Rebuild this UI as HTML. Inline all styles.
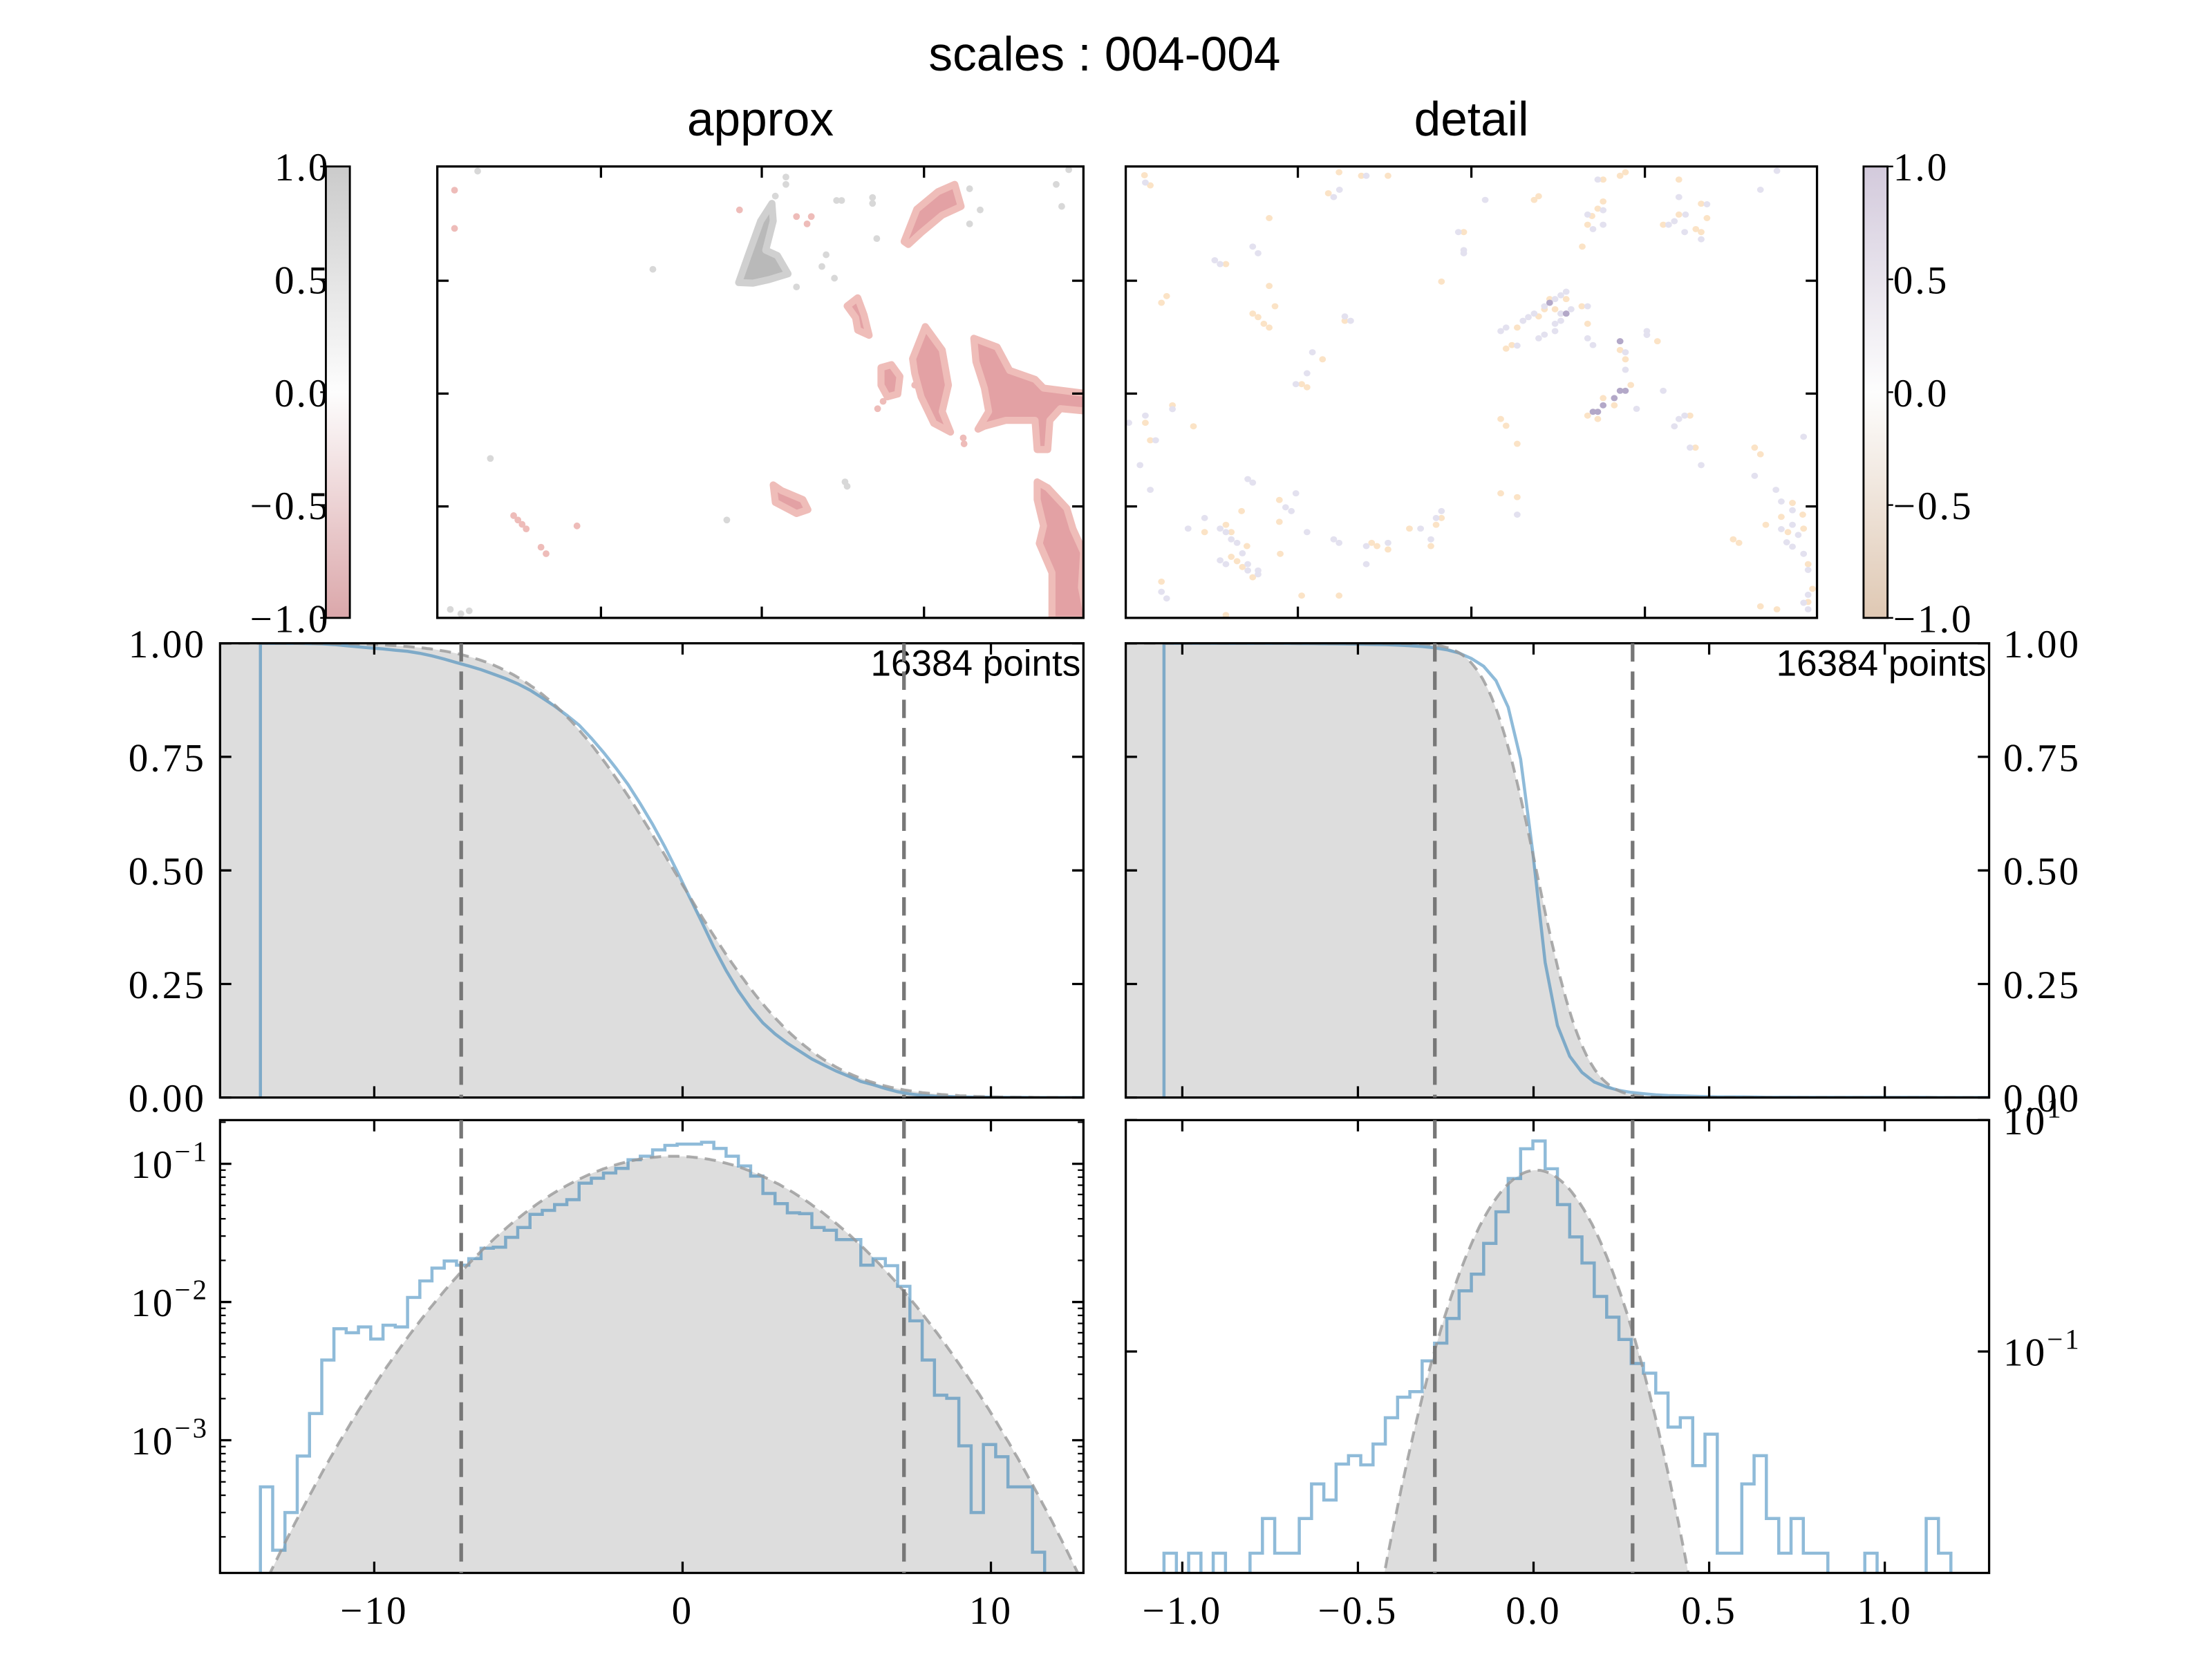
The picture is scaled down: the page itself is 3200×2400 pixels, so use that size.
<!DOCTYPE html>
<html><head><meta charset="utf-8"><title>scales : 004-004</title>
<style>
html,body{margin:0;padding:0;background:#fff;}
svg{display:block;}
.tk{font-family:"Liberation Serif",serif;font-size:28px;letter-spacing:1.5px;fill:#000;}
.sn{font-family:"Liberation Sans",sans-serif;fill:#000;}
</style></head>
<body>
<svg id="fig" xmlns="http://www.w3.org/2000/svg" width="3200" height="2400" viewBox="0 0 1568 1176" preserveAspectRatio="none">
<rect x="0" y="0" width="1568" height="1176" fill="#fff"/>
<defs>
<linearGradient id="cbL" x1="0" y1="0" x2="0" y2="1">
<stop offset="0" stop-color="#cbcbcb"/><stop offset="0.5" stop-color="#fdfdfd"/><stop offset="1" stop-color="#dba7aa"/>
</linearGradient>
<linearGradient id="cbR" x1="0" y1="0" x2="0" y2="1">
<stop offset="0" stop-color="#d3cadc"/><stop offset="0.5" stop-color="#fdfdfd"/><stop offset="1" stop-color="#dfc8b3"/>
</linearGradient>
<clipPath id="cA"><rect x="310" y="118" width="458" height="320"/></clipPath>
<clipPath id="cD"><rect x="798" y="118" width="490" height="320"/></clipPath>
<clipPath id="cML"><rect x="156" y="456" width="612" height="322"/></clipPath>
<clipPath id="cMR"><rect x="798" y="456" width="612" height="322"/></clipPath>
<clipPath id="cBL"><rect x="156" y="794" width="612" height="321"/></clipPath>
<clipPath id="cBR"><rect x="798" y="794" width="612" height="321"/></clipPath>
</defs>
<text class="sn" x="783" y="50" font-size="34" text-anchor="middle">scales : 004-004</text>
<text class="sn" x="539" y="96" font-size="34" text-anchor="middle">approx</text>
<text class="sn" x="1043" y="96" font-size="34" text-anchor="middle">detail</text>
<g id="layer"></g>
</svg>
<script>
// ---------- data ----------
const leftEdge0 = -13.69;
const leftBinW = 0.3974;
const leftDens = [4.6e-4,1.6e-4,3.0e-4,7.7e-4,1.56e-3,3.8e-3,6.4e-3,6.0e-3,6.6e-3,5.4e-3,6.8e-3,6.6e-3,1.08e-2,1.42e-2,1.76e-2,1.98e-2,1.85e-2,2.06e-2,2.45e-2,2.49e-2,2.94e-2,3.46e-2,4.31e-2,4.6e-2,5.07e-2,5.5e-2,7.24e-2,7.87e-2,8.57e-2,9.27e-2,0.107,0.1135,0.126,0.136,0.139,0.139,0.143,0.129,0.1135,0.0964,0.0815,0.061,0.0515,0.0442,0.0436,0.0346,0.033,0.0283,0.0283,0.0185,0.0206,0.0183,0.013,7.3e-3,3.8e-3,2.12e-3,2.01e-3,9.1e-4,3.0e-4,9.3e-4,7.6e-4,4.6e-4,4.6e-4,1.55e-4];
const leftMu = -0.28;
const leftSigma = 3.515;
const leftThresh = [-7.18, 7.18];

const rightEdge0 = -1.052;
const rightBinW = 0.035;
const rightDens = [1.8e-3,0,1.8e-3,0,1.8e-3,0,0,1.8e-3,3.6e-3,1.8e-3,1.8e-3,3.6e-3,7.15e-3,5.2e-3,0.01064,0.01256,0.01045,0.01585,0.0267,0.0402,0.0449,0.0828,0.118,0.193,0.334,0.466,0.859,1.61,3.13,5.66,6.6,3.80,1.86,0.977,0.581,0.299,0.198,0.127,0.0788,0.0649,0.0436,0.0222,0.0267,0.0103,0.0193,1.8e-3,1.8e-3,7.15e-3,0.01256,3.6e-3,1.8e-3,3.6e-3,1.8e-3,1.8e-3,0,0,0,1.8e-3,0,0,0,0,3.6e-3,1.8e-3];
const rightMu = 0.008;
const rightSigma = 0.108;
const rightThresh = [-0.281, 0.282];

const leftXTicks = [-10, 0, 10];
const leftXTickLabels = ["\u221210", "0", "10"];
const rightXTicks = [-1.0, -0.5, 0.0, 0.5, 1.0];
const rightXTickLabels = ["\u22121.0", "\u22120.5", "0.0", "0.5", "1.0"];
const cdfTicks = [0, 0.25, 0.5, 0.75, 1.0];
const cdfTickLabels = ["0.00", "0.25", "0.50", "0.75", "1.00"];
const cbTicks = [1.0, 0.5, 0.0, -0.5, -1.0];
const cbTickLabels = ["1.0", "0.5", "0.0", "\u22120.5", "\u22121.0"];
const nPointsLabel = "16384 points";

const approxRed = [
 [[1110,270],[1140,160],[1190,100],[1230,75],[1245,150],[1200,180],[1150,240],[1120,280]],
 [[1055,700],[1080,690],[1100,730],[1095,790],[1070,800],[1055,760]],
 [[1130,670],[1160,560],[1200,640],[1215,760],[1200,850],[1220,920],[1180,890],[1150,800],[1135,720]],
 [[1275,600],[1330,630],[1360,710],[1420,740],[1440,770],[1550,790],[1550,850],[1480,840],[1455,880],[1450,980],[1425,980],[1420,880],[1350,880],[1300,900],[1285,910],[1310,850],[1300,770],[1280,680]],
 [[1425,1090],[1450,1110],[1495,1180],[1510,1250],[1535,1330],[1530,1450],[1545,1560],[1460,1560],[1460,1400],[1430,1300],[1440,1240],[1425,1150]],
 [[800,1100],[820,1120],[870,1150],[882,1185],[855,1198],[805,1160]],
 [[975,490],[1000,462],[1015,520],[1027,590],[1000,572],[995,530]]
];
const approxGray = [
 [[718,410],[740,320],[770,200],[797,140],[800,200],[782,300],[810,318],[835,380],[790,400],[752,412]]
];
const approxRedDots = [[185,1205],[195,1220],[205,1235],[215,1250],[250,1313],[262,1335],[335,1240],[45,95],[45,225],[855,185],[880,210],[890,185],[720,162],[1250,940],[1252,960],[1047,840],[1060,815],[1135,760]];
const approxGrayDots = [[515,365],[950,130],[962,130],[1035,140],[1035,120],[1045,260],[925,315],[915,355],[945,395],[855,425],[970,1090],[975,1105],[690,1220],[130,1010],[1265,90],[1290,162],[1265,210],[1470,75],[1483,150],[1500,25],[830,50],[830,75],[805,115],[100,30],[60,1540],[35,1525],[80,1530]];

const detailOrange = [[50,40],[63,75],[330,187],[100,455],[88,478],[330,420],[343,490],[293,515],[305,527],[318,550],[330,563],[500,540],[450,672],[403,757],[415,768],[113,830],[52,890],[160,902],[63,950],[717,405],[767,235],[925,125],[935,112],[1080,55],[1118,42],[1130,30],[1250,55],[1080,130],[1068,155],[1055,180],[1045,210],[1033,285],[1300,138],[1313,187],[1288,225],[1300,235],[1215,210],[1250,175],[1045,550],[1202,610],[1118,640],[1130,672],[850,877],[862,900],[887,962],[1275,865],[1287,975],[1420,975],[1433,998],[850,1132],[887,1145],[353,1155],[353,1230],[268,1193],[233,1240],[245,1265],[185,1265],[280,1313],[245,1350],[258,1365],[270,1385],[293,1420],[355,1340],[560,1302],[572,1313],[597,1325],[645,1253],[717,1217],[705,1240],[693,1313],[88,1435],[403,1483],[487,1483],[233,1550],[487,30],[537,42],[597,42],[463,102],[233,345],[1445,1240],[1495,1265],[1528,1205],[1530,1253],[1540,1375],[1550,1460],[1540,1505],[1433,1520],[1470,1530],[1372,1290],[1385,1302],[1480,1213],[1505,1165],[887,563],[875,623],[862,635],[935,525],[948,500],[960,465],[972,500],[985,515],[997,465],[1045,865],[1068,877],[1080,805],[1105,830],[1142,760],[1032,490]];
const detailPurple = [[52,65],[488,90],[475,115],[548,42],[815,125],[755,235],[767,297],[767,308],[293,285],[305,308],[208,332],[220,345],[500,525],[513,540],[427,648],[415,720],[390,757],[113,843],[52,865],[15,890],[75,950],[40,1035],[63,1120],[282,1083],[293,1095],[390,1132],[367,1180],[380,1193],[185,1217],[148,1253],[220,1253],[233,1265],[245,1290],[258,1302],[270,1338],[282,1375],[282,1397],[305,1397],[305,1410],[233,1375],[220,1362],[415,1265],[475,1290],[487,1302],[548,1313],[548,1375],[597,1302],[670,1253],[693,1290],[717,1193],[705,1217],[887,1205],[1045,490],[1045,600],[1057,623],[887,625],[850,575],[862,563],[935,600],[948,587],[972,575],[972,550],[985,540],[1068,55],[1045,175],[1080,160],[1080,210],[1057,225],[1227,210],[1240,198],[1265,175],[1250,115],[1313,140],[1433,90],[1263,235],[1300,260],[1178,575],[1178,588],[1118,610],[1130,648],[1130,708],[1215,780],[1155,842],[1250,877],[1263,865],[1240,902],[1275,975],[1300,1035],[1420,1072],[1530,938],[1468,1120],[1480,1160],[1505,1190],[1480,1255],[1505,1240],[1518,1275],[1492,1300],[1505,1315],[1530,1340],[1540,1395],[1540,1480],[1530,1508],[1540,1530],[1470,25],[88,1470],[100,1493],[900,540],[912,527],[925,515],[948,490],[960,478],[972,465],[985,452],[997,440],[985,515],[997,515],[1008,500]];
const detailDark = [[960,478],[997,515],[1057,852],[1068,852],[1080,830],[1105,805],[1118,780],[1118,610],[1130,780]];

// ---------- helpers ----------
const NS = "http://www.w3.org/2000/svg";
const layer = document.getElementById("layer");
function mk(tag, attrs, parent) {
  const el = document.createElementNS(NS, tag);
  for (const k in attrs) el.setAttribute(k, attrs[k]);
  (parent || layer).appendChild(el);
  return el;
}
function erf(x) {
  const s = x < 0 ? -1 : 1; x = Math.abs(x);
  const t = 1 / (1 + 0.3275911 * x);
  const y = 1 - (((((1.061405429 * t - 1.453152027) * t) + 1.421413741) * t - 0.284496736) * t + 0.254829592) * t * Math.exp(-x * x);
  return s * y;
}
function gSurv(x, mu, s) { return 0.5 * (1 - erf((x - mu) / (s * Math.SQRT2))); }
function gPdf(x, mu, s) { return Math.exp(-0.5 * ((x - mu) / s) ** 2) / (s * Math.sqrt(2 * Math.PI)); }

const ML = {x0:156, x1:768, y0:456, y1:778, xmin:-15, xmax:13};
const MR = {x0:798, x1:1410, y0:456, y1:778, xmin:-1.161, xmax:1.297};
const BL = {x0:156, x1:768, y0:794, y1:1115, xmin:-15, xmax:13, lmax:-0.684, lmin:-3.96};
const BR = {x0:798, x1:1410, y0:794, y1:1115, xmin:-1.161, xmax:1.297, lmax:1.0, lmin:-2.915};
function sx(ax, v) { return ax.x0 + (v - ax.xmin) / (ax.xmax - ax.xmin) * (ax.x1 - ax.x0); }
function syLin(ax, p) { return ax.y1 - p * (ax.y1 - ax.y0); }
function syLog(ax, d) {
  if (d <= 0) return ax.y1 + 10;
  const l = Math.log10(d);
  return ax.y0 + (ax.lmax - l) / (ax.lmax - ax.lmin) * (ax.y1 - ax.y0);
}

// ---------- top maps ----------
const AM = {ox:308.7, sx:0.2993, oy:115.1, sy:0.2078};
const DM = {ox:798 - 8 * 0.3157, sx:0.3157, oy:118 - 10 * 0.2065, sy:0.2065};
function mp(m, p) { return [(m.ox + p[0] * m.sx).toFixed(1), (m.oy + p[1] * m.sy).toFixed(1)]; }

const gA = mk("g", {"clip-path": "url(#cA)"});


approxRed.forEach(poly => {
  const el = mk("polygon", {points: poly.map(p => mp(AM, p).join(",")).join(" "), fill: "#e3a1a4", stroke: "#efbdb9", "stroke-width": "5", "stroke-linejoin": "round"}, gA);
  
  
});
approxGray.forEach(poly => {
  const el = mk("polygon", {points: poly.map(p => mp(AM, p).join(",")).join(" "), fill: "#b9b9b9", stroke: "#d0d0d0", "stroke-width": "5", "stroke-linejoin": "round"}, gA);
  
  
});
approxRedDots.forEach(p => {
  const c = mp(AM, p);
  const el = mk("circle", {cx: c[0], cy: c[1], r: 2.4, fill: "#eebcb9"}, gA);
  
  
});
approxGrayDots.forEach(p => {
  const c = mp(AM, p);
  const el = mk("circle", {cx: c[0], cy: c[1], r: 2.4, fill: "#d8d8d8"}, gA);
  
  
});

const gD = mk("g", {"clip-path": "url(#cD)"});


detailOrange.forEach(p => {
  const c = mp(DM, p);
  const el = mk("ellipse", {cx: c[0], cy: c[1], rx: 2.4, ry: 2.2, fill: "#fbe3c6"}, gD);
  
  
});
detailPurple.forEach(p => {
  const c = mp(DM, p);
  const el = mk("ellipse", {cx: c[0], cy: c[1], rx: 2.4, ry: 2.2, fill: "#e3e1ef"}, gD);
  
  
});
detailDark.forEach(p => {
  const c = mp(DM, p);
  const el = mk("ellipse", {cx: c[0], cy: c[1], rx: 2.4, ry: 2.2, fill: "#b3a8c8"}, gD);
  
  
});

function frame(x0, y0, x1, y1, name) {
  const el = mk("rect", {x: x0, y: y0, width: x1 - x0, height: y1 - y0, fill: "none", stroke: "#000", "stroke-width": "1.6"});
  
  
}
function tickLine(x1, y1, x2, y2, w) {
  const el = mk("line", {x1: x1, y1: y1, x2: x2, y2: y2, stroke: "#000", "stroke-width": w || 1.6});
  
  
}
frame(310, 118, 768, 438, "approx-frame");
frame(798, 118, 1288, 438, "detail-frame");
[426, 540, 655].forEach(x => { tickLine(x, 438, x, 430); tickLine(x, 118, x, 126); });
[920, 1043, 1166].forEach(x => { tickLine(x, 438, x, 430); tickLine(x, 118, x, 126); });
[199, 279, 359].forEach(y => { tickLine(310, y, 318, y); tickLine(768, y, 760, y); tickLine(798, y, 806, y); tickLine(1288, y, 1280, y); });

function colorbar(x0, grad, labelX, anchor, tickSide, name) {
  const r = mk("rect", {x: x0, y: 118, width: 17, height: 320, fill: "url(#" + grad + ")", stroke: "#000", "stroke-width": "1.4"});
  
  
  cbTicks.forEach((v, i) => {
    const y = 278 - v * 160;
    if (tickSide < 0) tickLine(x0, y, x0 - 4, y, 1.2); else tickLine(x0 + 17, y, x0 + 21, y, 1.2);
    const t = mk("text", {x: labelX, y: y + 10, "text-anchor": anchor, class: "tk"});
    t.textContent = cbTickLabels[i];
    
    
  });
}
colorbar(231, "cbL", 234, "end", -1, "approx-colorbar");
colorbar(1321, "cbR", 1342, "start", 1, "detail-colorbar");

// ---------- middle (survival) ----------
function survivalPanel(ax, edge0, w, dens, mu, sig, clip, side, pref) {
  const g = mk("g", {"clip-path": "url(#" + clip + ")"});
  
  
  const N = 300, pts = [];
  for (let i = 0; i <= N; i++) {
    const x = ax.xmin + (ax.xmax - ax.xmin) * i / N;
    pts.push([sx(ax, x), syLin(ax, gSurv(x, mu, sig))]);
  }
  const fill = mk("polygon", {points: pts.map(p => p[0].toFixed(1) + "," + p[1].toFixed(1)).join(" ") + " " + ax.x1 + "," + ax.y1 + " " + ax.x0 + "," + ax.y1, fill: "#dddddd"}, g);
  
  
  const total = dens.reduce((a, b) => a + b, 0);
  let cum = 0;
  const sp = [[sx(ax, edge0), syLin(ax, 0)], [sx(ax, edge0), syLin(ax, 1)]];
  dens.forEach((d, i) => {
    cum += d;
    sp.push([sx(ax, edge0 + (i + 1) * w), syLin(ax, 1 - cum / total)]);
  });
  sp.push([ax.x1 + 5, syLin(ax, 0)]);
  const bl = mk("polyline", {points: sp.map(p => p[0].toFixed(1) + "," + p[1].toFixed(1)).join(" "), fill: "none", stroke: "#1f77b4", "stroke-opacity": "0.5", "stroke-width": "2.2"}, g);
  
  
  const gl = mk("polyline", {points: pts.map(p => p[0].toFixed(1) + "," + p[1].toFixed(1)).join(" "), fill: "none", stroke: "#999", "stroke-opacity": "0.8", "stroke-width": "2", "stroke-dasharray": "8,5"}, g);
  
  
  frame(ax.x0, ax.y0, ax.x1, ax.y1, pref + '-survival-frame');
  cdfTicks.forEach((v, i) => {
    const y = syLin(ax, v);
    tickLine(ax.x0, y, ax.x0 + 8, y); tickLine(ax.x1, y, ax.x1 - 8, y);
    const t = side < 0 ? mk("text", {x: ax.x0 - 10, y: y + 10, "text-anchor": "end", class: "tk"}) : mk("text", {x: ax.x1 + 10, y: y + 10, "text-anchor": "start", class: "tk"});
    t.textContent = cdfTickLabels[i];
    
    
  });
  const tp = mk("text", {x: ax.x1 - 2, y: ax.y0 + 23, "text-anchor": "end", class: "sn", "font-size": "26"});
  tp.textContent = nPointsLabel;
  
  
}
survivalPanel(ML, leftEdge0, leftBinW, leftDens, leftMu, leftSigma, "cML", -1, "approx");
survivalPanel(MR, rightEdge0, rightBinW, rightDens, rightMu, rightSigma, "cMR", 1, "detail");
leftXTicks.forEach(v => { const x = sx(ML, v); tickLine(x, ML.y1, x, ML.y1 - 8); tickLine(x, ML.y0, x, ML.y0 + 8); });
rightXTicks.forEach(v => { const x = sx(MR, v); tickLine(x, MR.y1, x, MR.y1 - 8); tickLine(x, MR.y0, x, MR.y0 + 8); });

// ---------- bottom (histograms) ----------
function histPanel(ax, edge0, w, dens, mu, sig, clip, pref) {
  const g = mk("g", {"clip-path": "url(#" + clip + ")"});
  
  
  const N = 300, pts = [];
  for (let i = 0; i <= N; i++) {
    const x = ax.xmin + (ax.xmax - ax.xmin) * i / N;
    pts.push([sx(ax, x), Math.min(syLog(ax, gPdf(x, mu, sig)), ax.y1 + 10)]);
  }
  const fill = mk("polygon", {points: pts.map(p => p[0].toFixed(1) + "," + p[1].toFixed(1)).join(" ") + " " + ax.x1 + "," + (ax.y1 + 10) + " " + ax.x0 + "," + (ax.y1 + 10), fill: "#dddddd"}, g);
  
  
  const hp = [[sx(ax, edge0), ax.y1 + 10]];
  dens.forEach((d, i) => {
    const y = syLog(ax, d);
    hp.push([sx(ax, edge0 + i * w), y]);
    hp.push([sx(ax, edge0 + (i + 1) * w), y]);
  });
  hp.push([sx(ax, edge0 + dens.length * w), ax.y1 + 10]);
  const hl = mk("polyline", {points: hp.map(p => p[0].toFixed(1) + "," + p[1].toFixed(1)).join(" "), fill: "none", stroke: "#1f77b4", "stroke-opacity": "0.5", "stroke-width": "2.2"}, g);
  
  
  const gl = mk("polyline", {points: pts.map(p => p[0].toFixed(1) + "," + p[1].toFixed(1)).join(" "), fill: "none", stroke: "#999", "stroke-opacity": "0.8", "stroke-width": "2", "stroke-dasharray": "8,5"}, g);
  
  
  frame(ax.x0, ax.y0, ax.x1, ax.y1, pref + '-histogram-frame');
}
histPanel(BL, leftEdge0, leftBinW, leftDens, leftMu, leftSigma, "cBL", "approx");
histPanel(BR, rightEdge0, rightBinW, rightDens, rightMu, rightSigma, "cBR", "detail");

function xLabels(ax, ticks, labels) {
  ticks.forEach((v, i) => {
    const x = sx(ax, v);
    tickLine(x, ax.y1, x, ax.y1 - 8); tickLine(x, ax.y0, x, ax.y0 + 8);
    const t = mk("text", {x: x, y: ax.y1 + 36, "text-anchor": "middle", class: "tk"});
    t.textContent = labels[i];
    
    
  });
}
xLabels(BL, leftXTicks, leftXTickLabels);
xLabels(BR, rightXTicks, rightXTickLabels);

function logLabel(x, y, exp, anchor) {
  const t = mk("text", {x: x, y: y + 10, "text-anchor": anchor, class: "tk"});
  
  
  t.appendChild(document.createTextNode("10"));
  const s = document.createElementNS(NS, "tspan");
  s.setAttribute("dy", "-12");
  s.setAttribute("font-size", "20");
  s.textContent = exp;
  t.appendChild(s);
}
[-1, -2, -3].forEach(e => {
  const y = syLog(BL, Math.pow(10, e));
  tickLine(BL.x0, y, BL.x0 + 8, y); tickLine(BL.x1, y, BL.x1 - 8, y);
  logLabel(BL.x0 - 8, y, "\u2212" + (-e), "end");
});
for (let e = -4; e <= -1; e++) {
  for (let m = 2; m <= 9; m++) {
    const d = m * Math.pow(10, e);
    const l = Math.log10(d);
    if (l > BL.lmax || l < BL.lmin) continue;
    const y = syLog(BL, d);
    tickLine(BL.x0, y, BL.x0 + 4, y, 1.1); tickLine(BL.x1, y, BL.x1 - 4, y, 1.1);
  }
}
[[1, "1"], [-1, "\u22121"]].forEach(p => {
  const y = syLog(BR, Math.pow(10, p[0]));
  tickLine(BR.x0, y, BR.x0 + 8, y); tickLine(BR.x1, y, BR.x1 - 8, y);
  logLabel(BR.x1 + 10, y, p[1], "start");
});

function thresh(ax1, ax2, v, name) {
  const x = sx(ax1, v);
  const el = mk("line", {x1: x, y1: ax1.y0, x2: x, y2: ax1.y1, stroke: "#777", "stroke-width": "2.6", "stroke-dasharray": "13,7"});
  
  
  const el2 = mk("line", {x1: x, y1: ax2.y0, x2: x, y2: ax2.y1, stroke: "#777", "stroke-width": "2.6", "stroke-dasharray": "13,7"});
  
  
}
leftThresh.forEach(v => thresh(ML, BL, v, 'approx-threshold-line'));
rightThresh.forEach(v => thresh(MR, BR, v, 'detail-threshold-line'));
</script>
</body></html>
